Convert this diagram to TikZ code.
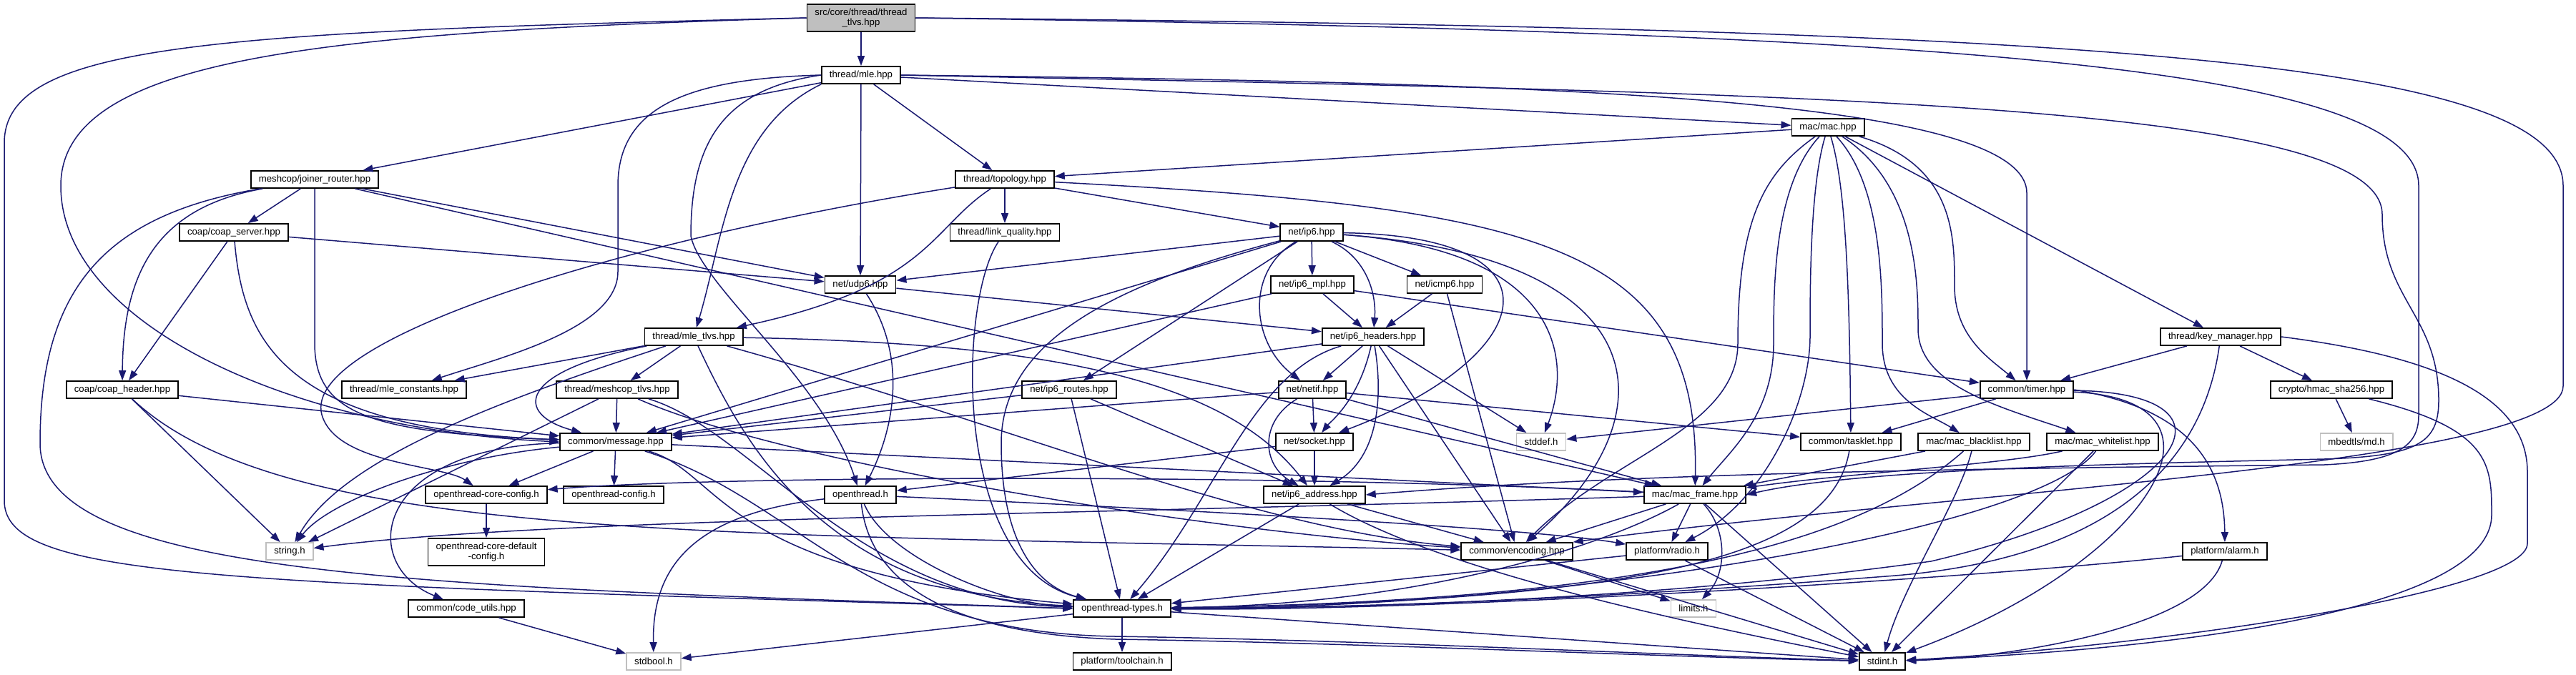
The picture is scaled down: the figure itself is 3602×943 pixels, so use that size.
\documentclass[tikz,border=0pt]{standalone}
\usepackage{fontspec}
\setmainfont{Liberation Sans}
\usetikzlibrary{arrows.meta}
\definecolor{edgeblue}{HTML}{191970}
\definecolor{graybox}{HTML}{BFBFBF}
\begin{document}
\begin{tikzpicture}[x=0.5pt,y=-0.5pt,
  file/.style={draw=black,fill=white,line width=0.9pt,font=\fontsize{6.6}{7.2}\selectfont,inner xsep=5.5pt,inner ysep=0pt,minimum height=12pt},
  sys/.style={file,draw=graybox},
  root/.style={file,fill=graybox,align=center,minimum height=19pt},
  two/.style={file,align=center,minimum height=19pt},
  dep/.style={draw=edgeblue,line width=0.75pt,-{Triangle[length=7pt,width=5pt]}}]
\fill[white] (0,0) rectangle (3602,943);
\useasboundingbox (0,0) rectangle (3602,943);
% nodes
\node[root] (T) at (1204,25) {src/core/thread/thread\\\_tlvs.hpp};
\node[file] (mle) at (1204,105) {thread/mle.hpp};
\node[file] (mac) at (2556,178) {mac/mac.hpp};
\node[file] (joiner) at (440,251) {meshcop/joiner\_router.hpp};
\node[file] (topo) at (1405,251) {thread/topology.hpp};
\node[file] (coapsrv) at (327,325) {coap/coap\_server.hpp};
\node[file] (linkq) at (1405,325) {thread/link\_quality.hpp};
\node[file] (ipsix) at (1834,325) {net/ip6.hpp};
\node[file] (udp) at (1203,398) {net/udp6.hpp};
\node[file] (mpl) at (1835,398) {net/ip6\_mpl.hpp};
\node[file] (icmp) at (2020,398) {net/icmp6.hpp};
\node[file] (mletlv) at (970,471) {thread/mle\_tlvs.hpp};
\node[file] (hdrs) at (1920,471) {net/ip6\_headers.hpp};
\node[file] (keymgr) at (3105,471) {thread/key\_manager.hpp};
\node[file] (coaphdr) at (171,545) {coap/coap\_header.hpp};
\node[file] (mleconst) at (565,545) {thread/mle\_constants.hpp};
\node[file] (meshtlv) at (863,545) {thread/meshcop\_tlvs.hpp};
\node[file] (routes) at (1495,545) {net/ip6\_routes.hpp};
\node[file] (netif) at (1835,545) {net/netif.hpp};
\node[file] (timer) at (2834,545) {common/timer.hpp};
\node[file] (hmac) at (3260,545) {crypto/hmac\_sha256.hpp};
\node[file] (msg) at (861,618) {common/message.hpp};
\node[file] (socket) at (1838,618) {net/socket.hpp};
\node[sys] (stddef) at (2155,618) {stddef.h};
\node[file] (tasklet) at (2588,618) {common/tasklet.hpp};
\node[file] (black) at (2760,618) {mac/mac\_blacklist.hpp};
\node[file] (white) at (2940,618) {mac/mac\_whitelist.hpp};
\node[sys] (md) at (3295,618) {mbedtls/md.h};
\node[file] (coreconf) at (680,692) {openthread-core-config.h};
\node[file] (otconf) at (858,692) {openthread-config.h};
\node[file] (oth) at (1203,692) {openthread.h};
\node[file] (addr) at (1838,692) {net/ip6\_address.hpp};
\node[file] (frame) at (2370,692) {mac/mac\_frame.hpp};
\node[sys] (string) at (405,771) {string.h};
\node[two] (coredef) at (680,772) {openthread-core-default\\-config.h};
\node[file] (enc) at (2121,771) {common/encoding.hpp};
\node[file] (radio) at (2331,771) {platform/radio.h};
\node[file] (alarm) at (3111,771) {platform/alarm.h};
\node[file] (codeutil) at (652,851) {common/code\_utils.hpp};
\node[file] (ottypes) at (1569,851) {openthread-types.h};
\node[sys] (limits) at (2368,851) {limits.h};
\node[sys] (stdbool) at (914,925) {stdbool.h};
\node[file] (toolchain) at (1569,925) {platform/toolchain.h};
\node[file] (stdint) at (2632,925) {stdint.h};
% edges
\begin{scope}[dep]
% thread_tlvs
\draw (T) -- (mle);
\draw (T.west) .. controls (300,45) and (6,60) .. (6,200) -- (6,700) .. controls (6,810) and (300,815) .. (ottypes.west);
\draw (T.west) .. controls (450,45) and (85,80) .. (85,260) .. controls (85,450) and (400,600) .. (msg.west);
\draw (T.east) .. controls (2900,40) and (3584,80) .. (3584,260) -- (3584,540) .. controls (3584,650) and (2700,690) .. (enc.north east);
\draw (T.east) .. controls (2700,45) and (3382,90) .. (3382,260) -- (3382,580) .. controls (3382,620) and (3360,645) .. (3250,650) .. controls (2800,655) and (2300,660) .. (addr.east);
% mle
\draw (mle) -- (joiner);
\draw (mle) -- (topo);
\draw (mle) -- (udp);
\draw (mle.south west) .. controls (1020,180) and (1012,330) .. (mletlv);
\draw (mle.west) .. controls (960,110) and (864,150) .. (864,260) -- (864,380) .. controls (864,460) and (700,500) .. (mleconst);
\draw (mle.west) .. controls (1010,125) and (966,200) .. (966,330) .. controls (980,400) and (1150,530) .. (oth);
\draw (mle) -- (mac);
\draw (mle.east) .. controls (2100,115) and (2834,130) .. (2834,270) -- (timer);
\draw (mle.east) .. controls (2500,130) and (3331,140) .. (3331,300) .. controls (3331,420) and (3410,440) .. (3410,560) .. controls (3410,620) and (3380,638) .. (3250,642) .. controls (3000,648) and (2600,655) .. (frame.east);
% mac
\draw (mac) -- (topo);
\draw (mac) -- (keymgr);
\draw (mac) .. controls (2733,230) and (2733,330) .. (2733,400) .. controls (2733,470) and (2780,500) .. (timer);
\draw (mac) .. controls (2470,240) and (2430,300) .. (2430,480) .. controls (2430,600) and (2250,640) .. (enc);
\draw (mac) .. controls (2480,260) and (2480,400) .. (2480,480) .. controls (2480,580) and (2420,630) .. (frame);
\draw (mac) .. controls (2531,260) and (2531,400) .. (2531,470) .. controls (2531,560) and (2470,700) .. (radio);
\draw (mac) .. controls (2581,260) and (2586,400) .. (tasklet);
\draw (mac) .. controls (2632,260) and (2632,400) .. (2632,480) .. controls (2632,560) and (2700,580) .. (black);
\draw (mac) .. controls (2682,260) and (2682,400) .. (2682,460) .. controls (2682,540) and (2800,570) .. (white);
% joiner_router
\draw (joiner) -- (coapsrv);
\draw (joiner) .. controls (220,290) and (172,380) .. (coaphdr);
\draw (joiner) .. controls (150,300) and (56,400) .. (56,620) .. controls (56,810) and (600,820) .. (ottypes.west);
\draw (joiner) -- (440,480) .. controls (440,580) and (520,605) .. (msg);
\draw (joiner) -- (udp);
\draw (joiner) -- (frame);
% topology
\draw (topo) .. controls (900,330) and (420,470) .. (450,580) .. controls (470,650) and (620,650) .. (coreconf);
\draw (topo) .. controls (1300,320) and (1300,400) .. (mletlv);
\draw (topo) -- (linkq);
\draw (topo) -- (ipsix);
\draw (topo) .. controls (2150,290) and (2377,340) .. (frame);
% coap_server
\draw (coapsrv) -- (coaphdr);
\draw (coapsrv) .. controls (340,480) and (400,600) .. (msg);
\draw (coapsrv) -- (udp);
% link_quality
\draw (linkq) .. controls (1340,420) and (1330,790) .. (ottypes);
% ip6
\draw (ipsix) -- (udp);
\draw (ipsix) -- (mpl);
\draw (ipsix) -- (icmp);
\draw (ipsix) .. controls (1910,360) and (1925,410) .. (hdrs);
\draw (ipsix) -- (routes);
\draw (ipsix) .. controls (1740,380) and (1750,480) .. (netif);
\draw (ipsix) .. controls (2200,330) and (2150,500) .. (socket);
\draw (ipsix) .. controls (2180,350) and (2200,500) .. (stddef);
\draw (ipsix) .. controls (2320,360) and (2340,580) .. (enc);
\draw (ipsix) -- (msg);
\draw (ipsix) .. controls (1550,400) and (1400,480) .. (1400,620) .. controls (1400,760) and (1450,820) .. (ottypes);
% udp6
\draw (udp) -- (hdrs);
\draw (udp) .. controls (1270,500) and (1250,600) .. (oth);
% ip6_mpl
\draw (mpl) -- (hdrs);
\draw (mpl) -- (msg);
\draw (mpl) -- (timer);
% icmp6
\draw (icmp) -- (hdrs);
\draw (icmp) -- (enc);
% mle_tlvs
\draw (mletlv) -- (mleconst);
\draw (mletlv) -- (meshtlv);
\draw (mletlv) .. controls (720,520) and (720,580) .. (msg);
\draw (mletlv) .. controls (700,560) and (480,640) .. (string);
\draw (mletlv) .. controls (1040,620) and (1150,830) .. (ottypes);
\draw (mletlv) .. controls (1400,590) and (1750,740) .. (enc);
\draw (mletlv) .. controls (1500,480) and (1720,540) .. (addr);
% meshcop_tlvs
\draw (meshtlv) -- (msg);
\draw (meshtlv) -- (string);
\draw (meshtlv) .. controls (1050,600) and (1200,840) .. (ottypes);
\draw (meshtlv) .. controls (1100,650) and (1700,745) .. (enc);
% ip6_headers
\draw (hdrs) -- (netif);
\draw (hdrs) .. controls (1900,560) and (1860,590) .. (socket);
\draw (hdrs) .. controls (1935,560) and (1925,640) .. (addr);
\draw (hdrs) -- (stddef);
\draw (hdrs) -- (enc);
\draw (hdrs) -- (msg);
\draw (hdrs) .. controls (1750,520) and (1700,700) .. (ottypes);
% ip6_routes
\draw (routes) -- (msg);
\draw (routes) -- (ottypes);
\draw (routes) -- (addr);
% netif
\draw (netif) -- (msg);
\draw (netif) -- (socket);
\draw (netif) .. controls (1760,590) and (1765,650) .. (addr);
\draw (netif) -- (tasklet);
\draw (netif) -- (frame);
% timer
\draw (timer) -- (stddef);
\draw (timer) -- (tasklet);
\draw (timer.east) .. controls (3050,570) and (3110,640) .. (alarm);
\draw (timer) .. controls (3150,550) and (3060,700) .. (2700,785) .. controls (2300,840) and (1900,850) .. (ottypes);
\draw (timer) .. controls (3150,560) and (3000,790) .. (stdint);
% key_manager
\draw (keymgr) -- (timer);
\draw (keymgr) -- (hmac);
\draw (keymgr) .. controls (3080,650) and (2950,780) .. (2650,805) .. controls (2200,840) and (1900,850) .. (ottypes);
\draw (keymgr.east) .. controls (3420,500) and (3534,560) .. (3534,660) -- (3534,760) .. controls (3534,830) and (3000,905) .. (stdint);
% hmac
\draw (hmac) -- (md);
\draw (hmac) .. controls (3484,600) and (3484,650) .. (3484,720) .. controls (3484,860) and (3000,910) .. (stdint);
% tasklet
\draw (tasklet) .. controls (2560,780) and (2300,840) .. (ottypes);
% blacklist / whitelist
\draw (black) -- (frame);
\draw (black) .. controls (2600,760) and (2300,840) .. (ottypes);
\draw (black) .. controls (2740,700) and (2660,820) .. (stdint);
\draw (white) .. controls (2800,650) and (2600,660) .. (frame);
\draw (white) .. controls (2850,740) and (2200,850) .. (ottypes);
\draw (white) -- (stdint);
% socket
\draw (socket) -- (addr);
\draw (socket) -- (oth);
% message
\draw (msg) -- (coreconf);
\draw (msg) -- (otconf);
\draw (msg) .. controls (620,640) and (460,700) .. (string);
\draw (msg) .. controls (520,625) and (500,790) .. (codeutil);
\draw (msg) -- (frame);
\draw (msg) .. controls (1010,660) and (1000,800) .. (ottypes);
\draw (msg) .. controls (1120,700) and (1200,885) .. (1560,890) .. controls (1900,895) and (2300,915) .. (stdint);
% coap_header
\draw (coaphdr) -- (msg);
\draw (coaphdr) -- (string);
\draw (coaphdr) .. controls (400,760) and (1000,745) .. (enc);
% config
\draw (coreconf) -- (coredef);
% openthread.h
\draw (oth) .. controls (960,720) and (912,800) .. (stdbool);
\draw (oth) .. controls (1240,780) and (1400,845) .. (ottypes);
\draw (oth) .. controls (1215,800) and (1300,885) .. (1560,894) .. controls (1900,899) and (2300,918) .. (stdint);
\draw (oth) .. controls (1700,715) and (2150,740) .. (radio);
% ip6_address
\draw (addr) -- (ottypes);
\draw (addr) .. controls (2000,790) and (2300,860) .. (stdint);
\draw (addr) -- (enc);
% mac_frame
\draw (frame) -- (enc);
\draw (frame) -- (radio);
\draw (frame) .. controls (2415,740) and (2415,800) .. (limits);
\draw (frame) -- (stdint);
\draw (frame) .. controls (2250,760) and (2000,845) .. (ottypes);
\draw (frame) .. controls (1500,720) and (750,725) .. (string);
\draw (frame) .. controls (1800,662) and (1000,665) .. (coreconf);
% encoding
\draw (enc) -- (limits);
\draw (enc) -- (stdint);
% radio
\draw (radio) -- (ottypes);
\draw (radio) -- (stdint);
% alarm
\draw (alarm) .. controls (2750,810) and (2000,855) .. (ottypes);
\draw (alarm) .. controls (3080,880) and (2800,920) .. (stdint);
% code_utils
\draw (codeutil) -- (stdbool);
% openthread-types
\draw (ottypes) -- (stdbool);
\draw (ottypes) -- (toolchain);
\draw (ottypes) -- (stdint);
\end{scope}
\end{tikzpicture}
\end{document}
